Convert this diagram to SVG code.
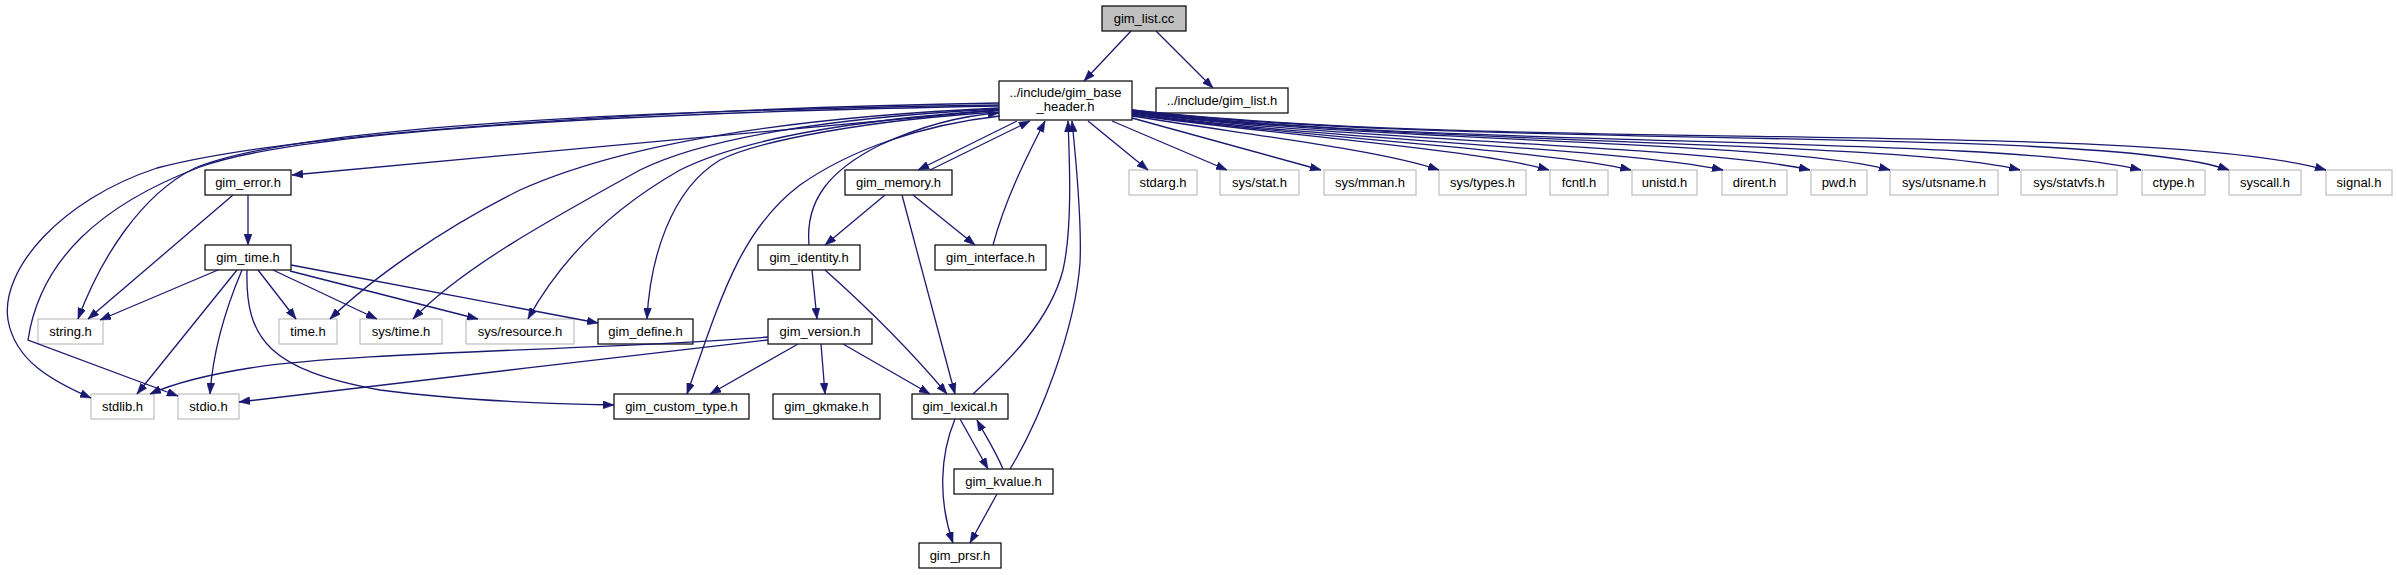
<svg xmlns="http://www.w3.org/2000/svg" width="2397" height="575" viewBox="0 0 2397 575">
<defs>
<style>
.n rect{fill:#ffffff;stroke:#000000;stroke-width:1.2}
.s rect{fill:#ffffff;stroke:#bfbfbf;stroke-width:1.2}
.r rect{fill:#bfbfbf;stroke:#000000;stroke-width:1.2}
text{font-family:"Liberation Sans",Arial,Helvetica,sans-serif;font-size:13px;fill:#000000;text-anchor:middle}
#edges path{fill:none;stroke:#191970;stroke-width:1.3;marker-end:url(#arr)}
</style>
<marker id="arr" viewBox="0 0 11 8" refX="11" refY="4" markerWidth="11" markerHeight="8" markerUnits="userSpaceOnUse" orient="auto">
<path d="M0,0 L11,4 L0,8 z" fill="#191970" stroke="#191970" stroke-width="0.5"/>
</marker>
</defs>
<rect width="2397" height="575" fill="#ffffff"/>

<g id="node_gim_list_cc" class="r"><rect x="1102" y="6" width="84" height="25"/><text x="1144" y="23">gim_list.cc</text></g>
<g id="node_base_header" class="n"><rect x="999" y="81" width="133" height="39"/><text x="1065.5" y="97">../include/gim_base</text><text x="1065.5" y="111">_header.h</text></g>
<g id="node_gim_list_h" class="n"><rect x="1156" y="88" width="132" height="25"/><text x="1222" y="105">../include/gim_list.h</text></g>
<g id="node_gim_error" class="n"><rect x="205" y="170" width="86" height="25"/><text x="248" y="187">gim_error.h</text></g>
<g id="node_gim_time" class="n"><rect x="205" y="245" width="86" height="25"/><text x="248" y="262">gim_time.h</text></g>
<g id="node_string" class="s"><rect x="38" y="319" width="65" height="25"/><text x="70.5" y="336">string.h</text></g>
<g id="node_time" class="s"><rect x="279" y="319" width="58" height="25"/><text x="308" y="336">time.h</text></g>
<g id="node_sys_time" class="s"><rect x="360" y="319" width="82" height="25"/><text x="401" y="336">sys/time.h</text></g>
<g id="node_sys_resource" class="s"><rect x="466" y="319" width="108" height="25"/><text x="520" y="336">sys/resource.h</text></g>
<g id="node_gim_define" class="n"><rect x="598" y="319" width="95" height="25"/><text x="645.5" y="336">gim_define.h</text></g>
<g id="node_stdlib" class="s"><rect x="91" y="394" width="63" height="25"/><text x="122.5" y="411">stdlib.h</text></g>
<g id="node_stdio" class="s"><rect x="178" y="394" width="61" height="25"/><text x="208.5" y="411">stdio.h</text></g>
<g id="node_gim_custom_type" class="n"><rect x="614" y="394" width="135" height="25"/><text x="681.5" y="411">gim_custom_type.h</text></g>
<g id="node_gim_memory" class="n"><rect x="845" y="170" width="107" height="25"/><text x="898.5" y="187">gim_memory.h</text></g>
<g id="node_gim_identity" class="n"><rect x="758" y="245" width="102" height="25"/><text x="809" y="262">gim_identity.h</text></g>
<g id="node_gim_interface" class="n"><rect x="935" y="245" width="111" height="25"/><text x="990.5" y="262">gim_interface.h</text></g>
<g id="node_gim_version" class="n"><rect x="768" y="319" width="104" height="25"/><text x="820" y="336">gim_version.h</text></g>
<g id="node_gim_gkmake" class="n"><rect x="773" y="394" width="107" height="25"/><text x="826.5" y="411">gim_gkmake.h</text></g>
<g id="node_gim_lexical" class="n"><rect x="912" y="394" width="96" height="25"/><text x="960" y="411">gim_lexical.h</text></g>
<g id="node_gim_kvalue" class="n"><rect x="954" y="469" width="99" height="25"/><text x="1003.5" y="486">gim_kvalue.h</text></g>
<g id="node_gim_prsr" class="n"><rect x="919" y="543" width="82" height="25"/><text x="960" y="560">gim_prsr.h</text></g>
<g id="node_stdarg" class="s"><rect x="1129" y="170" width="68" height="25"/><text x="1163" y="187">stdarg.h</text></g>
<g id="node_sys_stat" class="s"><rect x="1220" y="170" width="79" height="25"/><text x="1259.5" y="187">sys/stat.h</text></g>
<g id="node_sys_mman" class="s"><rect x="1324" y="170" width="92" height="25"/><text x="1370" y="187">sys/mman.h</text></g>
<g id="node_sys_types" class="s"><rect x="1439" y="170" width="87" height="25"/><text x="1482.5" y="187">sys/types.h</text></g>
<g id="node_fcntl" class="s"><rect x="1550" y="170" width="58" height="25"/><text x="1579" y="187">fcntl.h</text></g>
<g id="node_unistd" class="s"><rect x="1632" y="170" width="65" height="25"/><text x="1664.5" y="187">unistd.h</text></g>
<g id="node_dirent" class="s"><rect x="1722" y="170" width="65" height="25"/><text x="1754.5" y="187">dirent.h</text></g>
<g id="node_pwd" class="s"><rect x="1811" y="170" width="56" height="25"/><text x="1839" y="187">pwd.h</text></g>
<g id="node_sys_utsname" class="s"><rect x="1890" y="170" width="108" height="25"/><text x="1944" y="187">sys/utsname.h</text></g>
<g id="node_sys_statvfs" class="s"><rect x="2021" y="170" width="96" height="25"/><text x="2069" y="187">sys/statvfs.h</text></g>
<g id="node_ctype" class="s"><rect x="2142" y="170" width="63" height="25"/><text x="2173.5" y="187">ctype.h</text></g>
<g id="node_syscall" class="s"><rect x="2229" y="170" width="72" height="25"/><text x="2265" y="187">syscall.h</text></g>
<g id="node_signal" class="s"><rect x="2326" y="170" width="66" height="25"/><text x="2359" y="187">signal.h</text></g>

<g id="edges">
<path d="M1131,31 L1084,81"/>
<path d="M1156,31 L1213,88"/>
<path d="M999,110 L292,175"/>
<path d="M999,105 C650,110 300,125 195,168 C140,195 100,260 78,319"/>
<path d="M999,103 C700,108 300,130 157,168 C60,200 0,270 8,320 C15,360 50,380 91,398"/>
<path d="M999,106 C650,112 300,130 200,167 C100,205 40,260 28,340 L178,396"/>
<path d="M999,108 C780,118 620,145 520,190 C440,230 370,280 330,319"/>
<path d="M999,109 C820,118 700,140 640,170 C540,225 460,270 413,319"/>
<path d="M999,110 C850,120 740,140 680,170 C610,210 560,260 528,319"/>
<path d="M999,112 C870,120 760,140 720,160 C670,190 650,260 647,319"/>
<path d="M1000,116 C920,125 850,150 800,185 C740,230 720,300 687,394"/>
<path d="M1017,121 L918,170"/>
<path d="M1088,121 L1148,170"/>
<path d="M1112,121 L1227,170"/>
<path d="M1132,118 L1321,170"/>
<path d="M1132,116 C1250,135 1380,150 1439,170"/>
<path d="M1132,115 C1280,135 1480,150 1549,170"/>
<path d="M1132,114 C1300,138 1550,150 1631,170"/>
<path d="M1132,113 C1320,140 1620,148 1723,170"/>
<path d="M1132,112 C1350,142 1700,145 1810,170"/>
<path d="M1132,112 C1380,143 1780,140 1890,170"/>
<path d="M1132,111 C1400,145 1900,140 2020,170"/>
<path d="M1132,111 C1420,148 2000,135 2141,170"/>
<path d="M1132,110 C1450,150 2100,125 2229,170"/>
<path d="M1132,110 C1500,152 2150,120 2326,170"/>
<path d="M233,195 L88,319"/>
<path d="M248,195 L248,245"/>
<path d="M218,270 L100,320"/>
<path d="M237,270 L137,394"/>
<path d="M242,270 C225,310 213,350 210,394"/>
<path d="M258,270 L296,319"/>
<path d="M273,270 L377,319"/>
<path d="M290,271 L478,319"/>
<path d="M291,265 L598,323"/>
<path d="M247,270 C245,340 270,370 380,390 C470,402 560,404 614,405"/>
<path d="M768,337 C600,350 350,352 250,368 C200,376 170,385 150,394"/>
<path d="M768,340 C600,360 400,382 239,402"/>
<path d="M798,344 L710,394"/>
<path d="M821,344 L825,394"/>
<path d="M843,344 L930,394"/>
<path d="M809,245 C805,200 830,170 880,145 C930,122 970,115 999,113"/>
<path d="M812,270 L817,319"/>
<path d="M825,270 C870,310 910,350 947,394"/>
<path d="M930,170 L1030,121"/>
<path d="M885,195 L825,245"/>
<path d="M913,195 L975,245"/>
<path d="M902,195 L955,394"/>
<path d="M993,245 C1005,200 1025,160 1045,121"/>
<path d="M973,394 C1010,360 1050,320 1063,270 C1072,230 1070,170 1068,121"/>
<path d="M960,419 L988,469"/>
<path d="M955,419 C940,455 938,500 953,543"/>
<path d="M1010,469 C1040,420 1075,330 1080,263 C1082,220 1076,160 1072,121"/>
<path d="M1003,469 C995,450 985,435 977,420"/>
<path d="M997,494 L970,543"/>
</g>
</svg>
